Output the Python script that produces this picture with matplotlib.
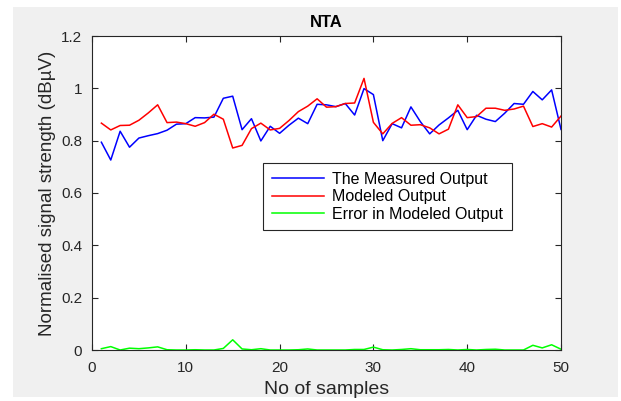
import matplotlib
matplotlib.use("Agg")
import matplotlib.pyplot as plt
import numpy as np

plt.rcParams['font.family'] = ['Liberation Sans', 'DejaVu Sans']

# sample index
samples = np.arange(1, 51)

measured = [0.794, 0.726, 0.836, 0.775, 0.810, 0.819, 0.827, 0.840, 0.863, 0.865,
            0.888, 0.887, 0.890, 0.962, 0.970, 0.842, 0.884, 0.799, 0.855, 0.828,
            0.859, 0.886, 0.865, 0.939, 0.937, 0.930, 0.942, 0.898, 0.999, 0.976,
            0.800, 0.865, 0.849, 0.929, 0.873, 0.826, 0.860, 0.887, 0.916, 0.842,
            0.897, 0.882, 0.873, 0.905, 0.942, 0.939, 0.988, 0.956, 0.994, 0.843]

modeled = [0.867, 0.841, 0.858, 0.859, 0.878, 0.906, 0.937, 0.869, 0.871, 0.865,
           0.855, 0.869, 0.901, 0.882, 0.772, 0.782, 0.846, 0.867, 0.841, 0.847,
           0.877, 0.911, 0.932, 0.960, 0.928, 0.930, 0.942, 0.944, 1.038, 0.870,
           0.826, 0.866, 0.888, 0.859, 0.861, 0.849, 0.826, 0.844, 0.937, 0.888,
           0.892, 0.924, 0.924, 0.916, 0.921, 0.932, 0.854, 0.865, 0.852, 0.894]

error = [0.005, 0.013, 0.000, 0.007, 0.005, 0.008, 0.012, 0.001, 0.000, 0.000,
         0.001, 0.000, 0.000, 0.006, 0.039, 0.004, 0.001, 0.005, 0.000, 0.000,
         0.000, 0.001, 0.004, 0.000, 0.000, 0.000, 0.000, 0.002, 0.002, 0.011,
         0.001, 0.000, 0.002, 0.005, 0.001, 0.001, 0.001, 0.002, 0.000, 0.002,
         0.000, 0.002, 0.003, 0.000, 0.000, 0.000, 0.018, 0.008, 0.020, 0.003]

xticks = [0, 10, 20, 30, 40, 50]
yticks = [0, 0.2, 0.4, 0.6, 0.8, 1.0, 1.2]
ytick_labels = ['0', '0.2', '0.4', '0.6', '0.8', '1', '1.2']

fig = plt.figure(figsize=(6.21, 4.01), dpi=100, facecolor='white')
# grey matlab-style figure panel, kept behind the axes
fig.patches.append(plt.Rectangle((13 / 621, 4 / 401), 605 / 621, 390 / 401,
                                 transform=fig.transFigure, facecolor='#f0f0f0',
                                 edgecolor='none', zorder=-10))

ax = fig.add_axes([92 / 621, 51 / 401, 469 / 621, 314 / 401])
ax.set_zorder(5)
ax.plot(samples, measured, color='#0000ff', lw=1.1, label='The Measured Output')
ax.plot(samples, modeled, color='#ff0000', lw=1.1, label='Modeled Output')
ax.plot(samples, error, color='#00ff00', lw=1.1, label='Error in Modeled Output')

ax.set_xlim(0, 50)
ax.set_ylim(0, 1.2)
ax.set_xticks(xticks)
ax.set_yticks(yticks)
ax.set_yticklabels(ytick_labels)
ax.tick_params(direction='in', length=4, labelsize=11, colors='#262626',
               top=True, right=True, labeltop=False, labelright=False)
ax.tick_params(axis='x', pad=8)
ax.tick_params(axis='y', pad=7)
for s in ax.spines.values():
    s.set_color('#262626')
    s.set_linewidth(0.8)

ax.set_title('NTA', fontsize=12, fontweight='bold', pad=6.5)
ax.set_xlabel('No of samples', fontsize=14, labelpad=4, color='#262626')
ax.set_ylabel('Normalised signal strength (dBµV)', fontsize=13.5,
              labelpad=4, color='#262626')

leg = ax.legend(loc='upper left', bbox_to_anchor=(171 / 469, (350 - 163) / 314),
                fontsize=11.5, fancybox=False, framealpha=1, edgecolor='#262626',
                handlelength=3.3, handletextpad=0.5, borderaxespad=0,
                labelspacing=0.15, borderpad=0.55)
leg.get_frame().set_linewidth(0.8)

fig.savefig('out.png', dpi=100)
